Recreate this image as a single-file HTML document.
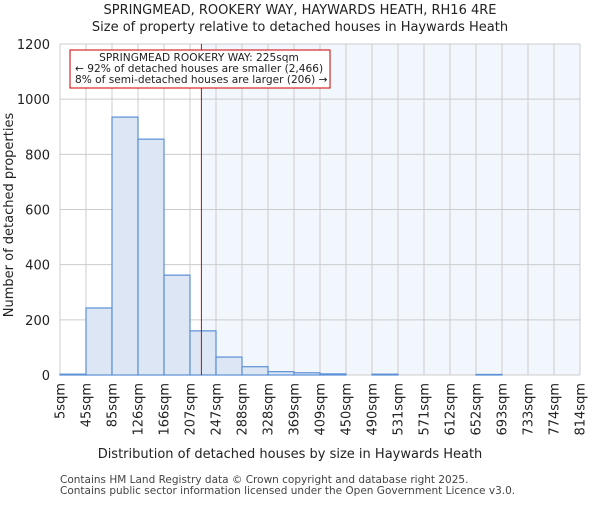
<!DOCTYPE html>
<html><head><meta charset="utf-8"><style>
body{margin:0;background:#fff;font-family:"Liberation Sans","DejaVu Sans",sans-serif;}
</style></head><body>
<svg width="600" height="500" xmlns="http://www.w3.org/2000/svg" font-family="DejaVu Sans, Liberation Sans, sans-serif">
<text x="300" y="14" text-anchor="middle" font-size="13" fill="#222">SPRINGMEAD, ROOKERY WAY, HAYWARDS HEATH, RH16 4RE</text>
<text x="300" y="31" text-anchor="middle" font-size="13" fill="#222">Size of property relative to detached houses in Haywards Heath</text>
<g id="plot"></g>
<text x="290" y="458" text-anchor="middle" font-size="13" fill="#222">Distribution of detached houses by size in Haywards Heath</text>
<text transform="translate(13,215) rotate(-90)" text-anchor="middle" font-size="13" fill="#222">Number of detached properties</text>
<text x="60" y="483" font-size="10.5" fill="#444">Contains HM Land Registry data © Crown copyright and database right 2025.</text>
<text x="60" y="494" font-size="10.5" fill="#444">Contains public sector information licensed under the Open Government Licence v3.0.</text>
</svg>
<script>
const categories=["5sqm","45sqm","85sqm","126sqm","166sqm","207sqm","247sqm","288sqm","328sqm","369sqm","409sqm","450sqm","490sqm","531sqm","571sqm","612sqm","652sqm","693sqm","733sqm","774sqm","814sqm"];
const counts=[3,243,935,855,362,160,65,30,12,8,4,0,3,0,0,0,2,0,0,0];
const yTicks=[0,200,400,600,800,1000,1200];
const propertySize=225;
const binStart=5, binEnd=814;
const NS="http://www.w3.org/2000/svg";
const g=document.getElementById("plot");
const X0=60,X1=580,Y0=375,Y1=44,YMAX=1200;
const n=counts.length,bw=(X1-X0)/n;
const xb=i=>X0+i*bw;
const xv=v=>X0+(v-binStart)/(binEnd-binStart)*(X1-X0);
const y=v=>Y0-(v/YMAX)*(Y0-Y1);
function mk(t,a){const e=document.createElementNS(NS,t);for(const k in a)e.setAttribute(k,a[k]);g.appendChild(e);return e;}
const lx=xv(propertySize);
let e=mk("rect",{x:lx,y:Y1,width:X1-lx,height:Y0-Y1,fill:"#f2f6fd"});


yTicks.forEach(t=>{
 let l=mk("line",{x1:X0,x2:X1,y1:y(t),y2:y(t),stroke:"#ccc","stroke-width":1});
 
 
 let tx=mk("text",{x:X0-10,y:y(t)+5,"text-anchor":"end","font-size":13,fill:"#222"});
 tx.textContent=t;
 
 
});
categories.forEach((c,i)=>{
 let l=mk("line",{x1:xb(i),x2:xb(i),y1:Y1,y2:Y0,stroke:"#ccc","stroke-width":1});
 
 
 let tx=mk("text",{transform:`translate(${xb(i)+4.5},383) rotate(-90)`,"text-anchor":"end","font-size":13,fill:"#222"});
 tx.textContent=c;
 
 
});
counts.forEach((v,i)=>{
 let r=mk("rect",{x:xb(i),y:y(v),width:bw,height:Y0-y(v),fill:"#dce6f5",stroke:"#5b8fd6","stroke-width":1.2});
 
 
});
e=mk("line",{x1:lx,x2:lx,y1:Y1,y2:Y0,stroke:"#dd0000","stroke-width":1});


e=mk("rect",{x:70,y:50,width:260,height:38,fill:"#fff",stroke:"#cc0000","stroke-width":1});


["SPRINGMEAD ROOKERY WAY: 225sqm","← 92% of detached houses are smaller (2,466)","8% of semi-detached houses are larger (206) →"].forEach((s,i)=>{
 let t=mk("text",{x:i==0?199:75,y:61+i*11,"text-anchor":i==0?"middle":"start","font-size":10.6,fill:"#222"});
 t.textContent=s;
 
 
});
</script>
</body></html>
